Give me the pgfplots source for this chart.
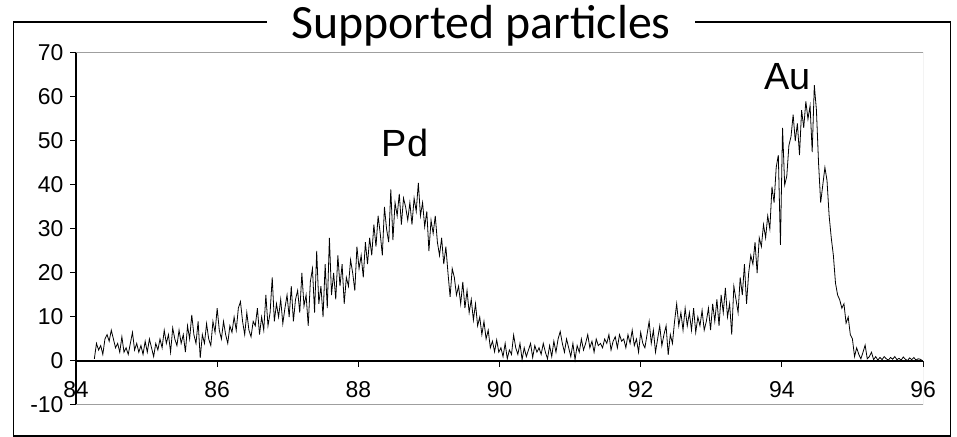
\documentclass[border=0pt]{standalone}
\usepackage{fontspec}
\setmainfont{Liberation Sans}
\newfontfamily\carlito{Carlito}
\usepackage{pgfplots}
\usepackage{pgfplotstable}
\pgfplotsset{compat=1.18}

\pgfplotstableread[row sep=\\]{
y\\
0.5\\4\\2.5\\3.5\\1.5\\5\\6\\4.5\\7\\5\\
3\\4\\2\\5.5\\2\\3\\1.5\\4\\6.5\\2.5\\
4\\2\\3.5\\1.5\\4.5\\2\\5\\3\\1\\4\\
2.5\\5\\3\\7\\4\\6\\2\\7.5\\5\\3.5\\
7\\4\\6\\2\\8\\5\\10.5\\6\\4\\9\\
0.7\\6\\4\\8.5\\5\\3.5\\9\\6.5\\12\\7\\
5\\9\\6\\4\\8\\6.5\\10\\7\\12\\13.5\\
9\\6\\11\\7\\5.5\\9\\8\\12\\6\\10\\
7\\15\\8\\11\\19\\9\\13\\10\\14\\8.5\\
12\\15\\10\\17\\9\\14\\16\\11\\20\\12.5\\
15\\8\\18\\21\\11\\25\\13\\17\\10\\22\\
12\\28\\15\\20\\14\\24\\17\\22\\13\\19\\
17\\23\\20\\16\\26\\21\\24\\19\\27\\22\\
28\\24\\31\\26\\33\\29\\24\\35\\30\\27\\
39\\27.5\\36\\33\\38\\31\\37\\35\\32\\36\\
31\\37\\34\\40.5\\33\\36\\30.5\\34\\25\\32\\
29\\33\\27\\24\\28\\22\\26\\20\\14.6\\21\\
19\\15\\17\\13\\18\\12\\16\\11\\14\\9.3\\
13\\8\\10\\6\\9\\5\\7\\3\\4.5\\2.1\\
4.8\\2\\3\\1\\4\\0.5\\2.5\\1.5\\5.9\\3\\
1.5\\4\\0.3\\3\\1\\2.5\\4\\0.8\\3.5\\2\\
3\\1.5\\4\\2\\0.5\\3.5\\1\\4.5\\2\\5\\
6.7\\4\\2\\5\\3\\1\\4\\0.3\\3.5\\2\\
5\\2.5\\4\\6\\3\\4.5\\2\\5\\3.5\\4\\
3\\5\\4\\6\\2.5\\4.5\\5.5\\3\\6\\4.5\\
5\\3\\6\\4\\7\\3.5\\5\\2\\6.5\\4\\
3\\6\\9\\4\\7\\2\\5\\8\\3.5\\6\\
8\\1.4\\6\\4\\9\\13\\8\\11\\7\\12\\
8\\11\\7\\12\\6.5\\10\\8\\11.5\\7\\9\\
12\\7\\13\\9\\14\\8\\15\\11\\16.6\\10\\
13\\6\\17\\14\\11\\19\\15\\22\\13\\20\\
24\\22\\27\\20\\28\\26\\31\\28\\33\\30\\
39.6\\36\\44\\46.8\\26.4\\53\\40\\42\\49\\51\\
56\\50\\54\\46.8\\57\\53\\59\\55\\58\\47.5\\
62.7\\57\\45\\36\\40\\44\\41\\33\\28\\24\\
17.7\\15\\13.9\\12\\13\\8.6\\10\\6\\5\\1\\
3\\1.5\\0.5\\2\\3.6\\0.5\\1\\2\\0.3\\1\\
0.2\\0.8\\0.3\\1\\0.5\\0.2\\0.8\\0.4\\1\\0.3\\
0.6\\0.2\\0.9\\0.4\\0.1\\0.7\\0.3\\0.8\\0.2\\0.5\\
0.4\\0.1\\
}\spec

\begin{document}
\begin{tikzpicture}[x=1bp,y=1bp]
\begin{axis}[
  at={(76bp,32bp)}, anchor=south west,
  scale only axis, width=847bp, height=352bp,
  xmin=84, xmax=96, ymin=-10, ymax=70,
  axis x line*=middle, axis y line*=left,
  axis line style={black, line width=1.2bp},
  xtick={84,86,...,96}, ytick={-10,0,...,70},
  tick align=outside, major tick length=6bp,
  tick style={black, line width=1bp},
  hide obscured x ticks=false, hide obscured y ticks=false,
  ticklabel style={font=\fontsize{23}{27}\selectfont},
  xticklabel style={yshift=-11bp},
  yticklabel style={xshift=-3bp},
  /pgf/number format/assume math mode=true,
]
\draw[gray!75, line width=1bp] (rel axis cs:0,1) -- (rel axis cs:1,1) -- (rel axis cs:1,0) -- (rel axis cs:0,0);
\addplot[black, line width=0.8bp] table[x expr=84.26+0.03*\coordindex, y=y] {\spec};
\node[font=\fontsize{38}{44}\selectfont, anchor=base] at (axis cs:88.66,46.4) {Pd};
\node[font=\fontsize{38}{44}\selectfont, anchor=base] at (axis cs:94.08,61.6) {Au};
\end{axis}
\draw[black, line width=1.8bp] (13.5,0.8) rectangle (950.5,415.3);
\node[fill=white, inner xsep=24bp, inner ysep=2bp, anchor=base,
      font=\carlito\fontsize{48}{56}\selectfont] at (481,398) {Supported particles};
\pgfresetboundingbox
\path (0,0) rectangle (957,437);
\end{tikzpicture}
\end{document}
